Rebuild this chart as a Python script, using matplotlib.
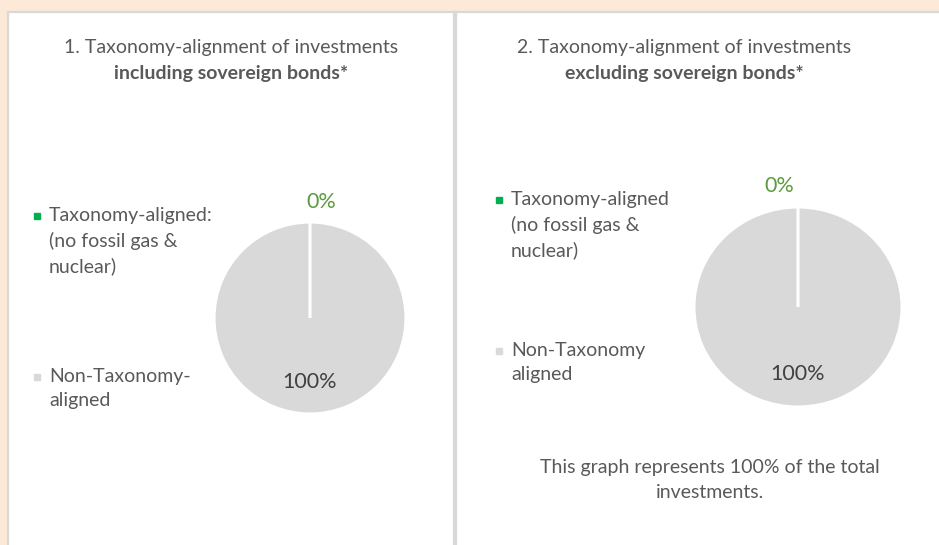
import matplotlib
matplotlib.use('Agg')
import matplotlib.pyplot as plt
from matplotlib.patches import Rectangle

# data
categories = ['Taxonomy-aligned', 'Non-Taxonomy-aligned']
values_incl = [0, 100]
values_excl = [0, 100]
legend_incl = ['Taxonomy-aligned:\n(no fossil gas &\nnuclear)', 'Non-Taxonomy-\naligned']
legend_excl = ['Taxonomy-aligned\n(no fossil gas &\nnuclear)', 'Non-Taxonomy\naligned']
title_incl = ['1. Taxonomy-alignment of investments', 'including sovereign bonds*']
title_excl = ['2. Taxonomy-alignment of investments', 'excluding sovereign bonds*']
footer = 'This graph represents 100% of the total\ninvestments.'

W, H = 939, 545
PEACH = '#FCE9D8'
BORDER = '#D9D9D9'
GREEN = '#00B050'
GREY = '#D9D9D9'
TXT = '#595959'
FONT = 'Lato'
FS = 14

fig = plt.figure(figsize=(W / 100, H / 100), dpi=100)
fig.patch.set_facecolor(PEACH)

bg = fig.add_axes([0, 0, 1, 1])
bg.set_xlim(0, W)
bg.set_ylim(H, 0)
bg.axis('off')

# panels
bg.add_patch(Rectangle((8, 12), 446, 540, facecolor='white', edgecolor=BORDER, linewidth=1.6))
bg.add_patch(Rectangle((455, 12), 500, 540, facecolor='white', edgecolor=BORDER, linewidth=1.6))
bg.plot([455, 455], [12, H], color=BORDER, linewidth=2.4)

# titles
for (l1, l2), cx in [(title_incl, 231), (title_excl, 684)]:
    bg.text(cx, 48, l1, ha='center', va='center', fontsize=FS, color=TXT, family=FONT)
    bg.text(cx, 73, l2, ha='center', va='center', fontsize=FS, color=TXT, family=FONT,
            fontweight='bold')

# legends
for labels, x0, ys in [(legend_incl, 37, (216, 377)), (legend_excl, 499, (200, 351))]:
    for lab, col, y in zip(labels, [GREEN, GREY], ys):
        bg.plot(x0, y, marker='s', markersize=5, color=col, linestyle='none')
        bg.text(x0 + 12, y - 9, lab, ha='left', va='top', fontsize=FS, color=TXT,
                family=FONT, linespacing=1.5)

bg.text(710, 480, footer, ha='center', va='center', fontsize=FS, color=TXT, family=FONT,
        linespacing=1.5)


def draw_pie(values, cx, cy, rx, ry, zero_dx):
    ax = fig.add_axes([(cx - rx) / W, 1 - (cy + ry) / H, 2 * rx / W, 2 * ry / H])
    wedges, texts, autotexts = ax.pie(values, colors=[GREEN, GREY], startangle=90,
                                      counterclock=False, radius=1.01,
                                      autopct='%1.0f%%', pctdistance=0.67,
                                      wedgeprops=dict(edgecolor='white', linewidth=2.2))
    # the empty slice sits on top so its white edge shows as the split line
    wedges[0].set_zorder(wedges[1].get_zorder() + 1)
    ax.set_aspect('auto')
    ax.set_xlim(-1, 1)
    ax.set_ylim(-1, 1)
    autotexts[0].set_position((zero_dx, 1.22))
    autotexts[0].set_color('#5B9A3D')
    autotexts[1].set_color('#404040')
    for t in autotexts:
        t.set_fontsize(15.5)
        t.set_family(FONT)
        t.set_zorder(5)


draw_pie(values_incl, 310, 318, 95, 95, 0.12)
draw_pie(values_excl, 798, 307, 103, 99, -0.18)

fig.savefig('out.png', dpi=100, facecolor=PEACH)
